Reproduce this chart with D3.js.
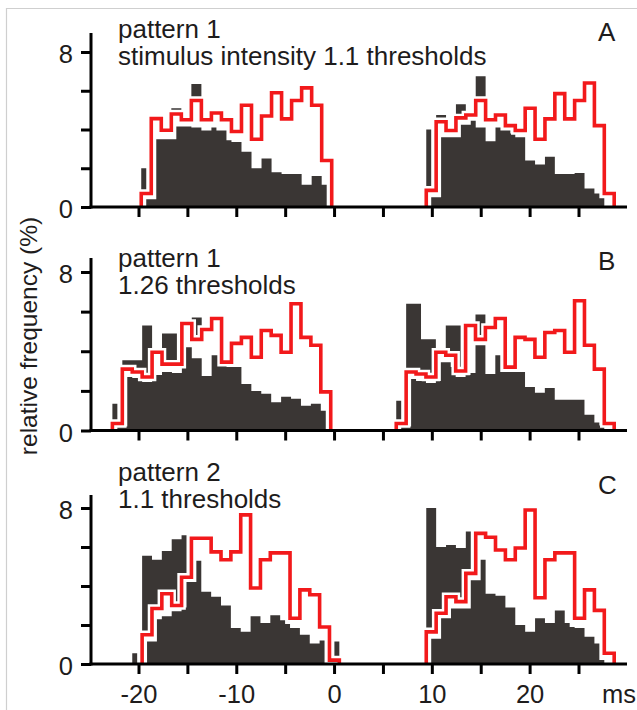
<!DOCTYPE html>
<html>
<head>
<meta charset="utf-8">
<script src="https://cdn.jsdelivr.net/npm/d3@7"></script>
<style>
  body { margin: 0; background: #fff; }
  svg { display: block; }
  text { font-family: "Liberation Sans", Arial, sans-serif; fill: #1e1c1c; }
</style>
</head>
<body>
<div class="graph-center"></div>
<script>
// ---- data (ms for x, % for y) ----
// each group: time range of the red histogram, red bin heights (1 bin ~ 1 ms),
// dark bars inside the red outline and dark bars sticking out of it (half bins,
// the first two half bins lie just before the red range)

let panelLetters = ['A', 'B', 'C']
let panelTitles = [
  ['pattern 1', 'stimulus intensity 1.1 thresholds'],
  ['pattern 1', '1.26 thresholds'],
  ['pattern 2', '1.1 thresholds']
]
let xTicks = [-20, -15, -10, -5, 0, 5, 10, 15, 20, 25]
let xTickLabels = [-20, -10, 0, 10, 20]
let yTicks = [0, 2, 4, 6, 8]
let yTickLabels = [0, 8]

// panel A, left burst
let rangeAL = [-19.72, -0.24]
let redAL = [0.7, 4.56, 3.96, 4.8, 4.5, 5.5, 4.5, 4.85, 4.5, 3.9, 5.25, 3.5, 4.7, 5.9, 4.55, 5.5, 6.15, 5.25, 2.4]
let innerAL = [0, 0, 0, 0.4, 0.4, 3.5, 3.5, 3.5, 3.5, 4.15, 4.15, 4.15, 4.1, 4.1, 3.95, 3.95, 4.1, 3.95, 3.95, 3.45, 3.35, 3.35, 2.85, 2.85, 2.0, 2.0, 2.5, 2.5, 1.8, 1.8, 1.7, 1.7, 1.7, 1.7, 1.15, 1.15, 1.6, 1.6, 1.15, 0]
let outerAL = [0, 0, 2.0, 0, 0, 0, 0, 0, 5.1, 5.1, 0, 0, 6.35, 6.35]

// panel A, right burst
let rangeAR = [9.43, 28.65]
let redAR = [0.86, 4.4, 3.95, 4.6, 4.75, 5.5, 4.5, 4.75, 4.2, 3.95, 5.1, 3.5, 4.55, 5.85, 4.55, 5.5, 6.4, 4.2, 0.7]
let innerAR = [0, 0, 0, 0.5, 0.5, 3.6, 3.6, 3.6, 3.6, 4.25, 4.25, 4.45, 4.1, 4.1, 3.4, 3.4, 4.1, 3.95, 3.95, 3.8, 3.6, 3.6, 2.4, 2.4, 2.2, 2.2, 2.6, 2.6, 1.7, 1.7, 1.7, 1.7, 1.75, 1.75, 0.95, 0.95, 0.7, 0.45, 0, 0]
let outerAR = [0, 0, 4.0, 0, 4.75, 4.75, 0, 0, 5.3, 5.3, 0, 0, 6.75, 6.75]

// panel B, left burst
let rangeBL = [-22.67, -0.34]
let redBL = [0.35, 3.1, 2.95, 2.7, 3.95, 3.35, 3.35, 5.4, 4.6, 5.1, 5.65, 3.45, 4.4, 4.7, 3.7, 5.05, 4.8, 3.95, 6.4, 4.7, 4.3, 1.95]
let innerBL = [0, 0, 0, 0.2, 0.2, 2.7, 2.65, 2.65, 2.45, 2.45, 2.8, 2.8, 2.95, 2.95, 2.9, 2.9, 4.2, 4.2, 3.65, 3.65, 2.75, 2.75, 3.8, 3.8, 3.25, 3.2, 3.2, 3.2, 2.35, 2.35, 2.0, 2.0, 1.85, 1.85, 1.43, 1.43, 1.7, 1.7, 1.6, 1.6, 1.25, 1.25, 1.35, 1.35, 1.0, 0]
let outerBL = [0, 0, 1.35, 0, 3.55, 3.55, 3.55, 3.55, 5.3, 5.3, 0, 0, 4.9, 4.9, 4.9, 0, 0, 0, 5.7, 5.7]

// panel B, right burst
let rangeBR = [6.36, 28.65]
let redBR = [0.35, 2.95, 2.85, 2.7, 3.95, 3.8, 3.0, 5.3, 4.6, 5.2, 5.65, 3.2, 4.7, 4.6, 3.7, 4.95, 5.05, 3.95, 6.55, 4.3, 3.1, 0.35]
let innerBR = [0, 0, 0, 0.2, 0.2, 2.6, 2.5, 2.5, 2.4, 2.4, 2.5, 3.45, 3.45, 3.2, 2.7, 2.7, 2.8, 2.9, 4.3, 4.3, 2.85, 2.85, 3.8, 2.95, 2.95, 2.95, 2.95, 2.95, 2.2, 2.2, 1.9, 1.9, 2.15, 2.15, 1.55, 1.55, 1.55, 1.55, 1.55, 1.55, 0.8, 0.8, 0.4, 0.25, 0, 0]
let outerBR = [0, 0, 1.5, 0, 6.4, 6.4, 6.4, 4.6, 4.6, 4.6, 0, 0, 5.3, 5.3, 5.3, 0, 0, 0, 5.85, 5.85]

// panel C, left burst
let rangeCL = [-19.63, 0.54]
let redCL = [1.5, 2.85, 3.6, 3.0, 4.45, 6.45, 6.45, 5.75, 5.35, 5.75, 7.65, 3.9, 5.35, 5.7, 5.7, 2.35, 3.8, 3.55, 1.9, 0.2]
let innerCL = [0, 0, 0, 1.15, 1.15, 2.3, 2.45, 2.45, 2.7, 2.7, 2.9, 4.2, 4.2, 5.3, 3.7, 3.7, 3.45, 3.45, 3.0, 3.0, 1.85, 1.85, 1.65, 1.65, 2.45, 2.45, 2.1, 2.1, 2.5, 2.5, 2.25, 2.05, 1.85, 1.85, 1.5, 1.5, 1.05, 1.05, 1.2, 0, 0, 0]
let outerCL = [0.55, 0, 5.55, 5.55, 5.35, 5.35, 5.8, 5.8, 6.4, 6.4, 6.6, 0, 0, 0, 0, 0, 0, 0, 0, 0, 0, 0, 0, 0, 0, 0, 0, 0, 0, 0, 0, 0, 0, 0, 0, 0, 0, 0, 0, 0, 0, 1.15]

// panel C, right burst
let rangeCR = [9.43, 28.65]
let redCR = [1.65, 2.6, 3.45, 3.2, 4.65, 6.7, 6.5, 5.85, 5.35, 5.95, 7.9, 3.4, 5.35, 5.7, 5.7, 2.35, 3.8, 2.75, 0.55]
let innerCR = [0, 0, 0, 1.3, 1.3, 2.35, 2.35, 2.85, 2.85, 2.85, 2.85, 4.3, 4.3, 5.35, 3.6, 3.6, 3.5, 3.5, 2.9, 2.9, 2.0, 2.0, 1.65, 1.65, 2.35, 2.35, 2.1, 2.1, 2.75, 2.75, 2.1, 1.9, 1.85, 1.85, 1.4, 1.4, 1.05, 0.2, 0, 0]
let outerCR = [0, 0, 8.0, 8.0, 6.0, 6.0, 6.1, 6.1, 5.95, 5.95, 6.8]

let groups = [
  {panel: 0, range: rangeAL, red: redAL, inner: innerAL, outer: outerAL},
  {panel: 0, range: rangeAR, red: redAR, inner: innerAR, outer: outerAR},
  {panel: 1, range: rangeBL, red: redBL, inner: innerBL, outer: outerBL},
  {panel: 1, range: rangeBR, red: redBR, inner: innerBR, outer: outerBR},
  {panel: 2, range: rangeCL, red: redCL, inner: innerCL, outer: outerCL},
  {panel: 2, range: rangeCR, red: redCR, inner: innerCR, outer: outerCR}
]

// ---- layout ----
let svgWidth = 637
let svgHeight = 710
let dark = '#3a3634'
let red = '#f2191b'
let axisX = 91
let axisRight = 627

// y position of 0 and 8 for each panel, top of the y axis line
let layout = [
  {y0: 207, y8: 52, top: 33, titleY: 38, letterY: 41},
  {y0: 430.5, y8: 272, top: 258, titleY: 267, letterY: 270},
  {y0: 664, y8: 508, top: 495, titleY: 481, letterY: 494}
]

let svg = d3.select('.graph-center')
    .append('svg')
    .attr('width', svgWidth)
    .attr('height', svgHeight)

// light frame around the figure
svg.append('path')
    .attr('d', 'M6.5,710 V8.5 H637')
    .attr('fill', 'none')
    .attr('stroke', '#cfcfcf')
    .attr('stroke-width', 1.2)

let xScale = d3.scaleLinear()
    .domain([-20, 25])
    .range([138.5, 578.5])

let yScales = layout.map(l => d3.scaleLinear().domain([0, 8]).range([l.y0, l.y8]))

// half bin histogram as one step shaped area (no seams between bars)
function drawBars(sel, arr, g, y) {
    let w = (g.range[1] - g.range[0]) / g.red.length
    let pts = arr.map((v, i) => [g.range[0] + (i - 2) * w / 2, v])
    pts.push([g.range[0] + (arr.length - 2) * w / 2, arr[arr.length - 1]])

    let area = d3.area()
        .x(d => xScale(d[0]))
        .y0(y(0))
        .y1(d => y(d[1]))
        .curve(d3.curveStepAfter)

    sel.append('path')
        .attr('d', area(pts))
        .attr('fill', dark)
}

groups.forEach(g => {
    let y = yScales[g.panel]
    let w = (g.range[1] - g.range[0]) / g.red.length
    let grp = svg.append('g')

    // step outline points of the red histogram
    let pts = [[g.range[0], 0]]
    g.red.forEach((v, i) => {
        pts.push([g.range[0] + i * w, v])
        pts.push([g.range[0] + (i + 1) * w, v])
    })
    pts.push([g.range[1], 0])

    let line = d3.line()
        .x(d => xScale(d[0]))
        .y(d => y(d[1]))

    // dark bars poking out of the red histogram
    drawBars(grp, g.outer, g, y)

    // white inside of the red histogram
    grp.append('path')
        .attr('d', line(pts) + 'Z')
        .attr('fill', '#fff')

    // dark bars inside
    drawBars(grp, g.inner, g, y)

    // red outline with a white halo
    grp.append('path')
        .attr('d', line(pts))
        .attr('fill', 'none')
        .attr('stroke', '#fff')
        .attr('stroke-width', 8.5)
    grp.append('path')
        .attr('d', line(pts))
        .attr('fill', 'none')
        .attr('stroke', red)
        .attr('stroke-width', 3.6)
})

// axes
layout.forEach((l, p) => {
    let y = yScales[p]

    let xAxis = d3.axisBottom(xScale)
        .tickValues(xTicks)
        .tickSize(10)
        .tickPadding(11)
        .tickFormat(d => (p == 2 && xTickLabels.includes(d)) ? d : '')

    let gx = svg.append('g')
        .attr('transform', `translate(0,${l.y0})`)
        .call(xAxis)
    gx.select('.domain').remove()
    gx.selectAll('line').attr('stroke', '#000').attr('stroke-width', 3)
    gx.selectAll('text').style('font-size', '25.5px').attr('fill', '#1e1c1c')

    svg.append('line')
        .attr('x1', axisX - 1.5)
        .attr('x2', axisRight)
        .attr('y1', l.y0)
        .attr('y2', l.y0)
        .attr('stroke', '#000')
        .attr('stroke-width', 3)

    let yAxis = d3.axisLeft(y)
        .tickValues(yTicks)
        .tickSize(10)
        .tickPadding(8)
        .tickFormat(d => yTickLabels.includes(d) ? d : '')

    let gy = svg.append('g')
        .attr('transform', `translate(${axisX},0)`)
        .call(yAxis)
    gy.select('.domain').remove()
    gy.selectAll('line').attr('stroke', '#000').attr('stroke-width', 3)
    gy.selectAll('text').style('font-size', '25.5px').attr('dy', '0.42em').attr('fill', '#1e1c1c')

    svg.append('line')
        .attr('x1', axisX)
        .attr('x2', axisX)
        .attr('y1', l.top)
        .attr('y2', l.y0 + 1.5)
        .attr('stroke', '#000')
        .attr('stroke-width', 3)

    // titles
    panelTitles[p].forEach((t, i) => {
        svg.append('text')
            .attr('x', 118)
            .attr('y', l.titleY + i * 27)
            .style('font-size', '26px')
            .text(t)
    })

    svg.append('text')
        .attr('x', 598)
        .attr('y', l.letterY)
        .style('font-size', '26px')
        .text(panelLetters[p])
})

// unit on the x axis
svg.append('text')
    .attr('x', 602)
    .attr('y', 703)
    .style('font-size', '25.5px')
    .text('ms')

// y axis title
svg.append('text')
    .attr('transform', 'translate(37,336) rotate(-90)')
    .attr('text-anchor', 'middle')
    .style('font-size', '24.5px')
    .text('relative frequency (%)')
</script>
</body>
</html>
